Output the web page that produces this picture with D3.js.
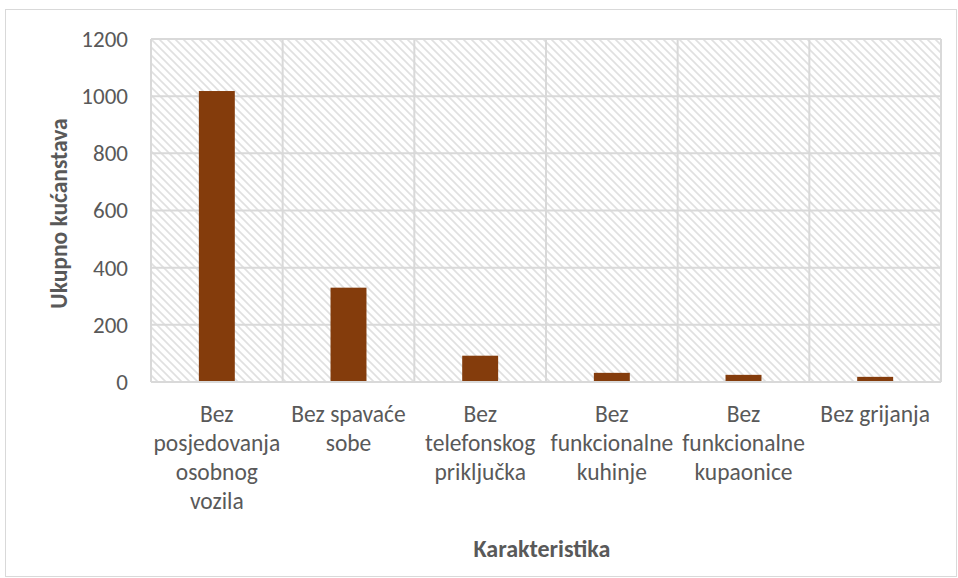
<!DOCTYPE html>
<html>
<head>
<meta charset="utf-8">
<script src="https://cdn.jsdelivr.net/npm/d3@7"></script>
<style>
  html, body { margin: 0; padding: 0; background: #fff; }
  svg { display: block; }
  text { font-family: Carlito, Calibri, Lato, "Liberation Sans", sans-serif; fill: #595959; }
</style>
</head>
<body>
<svg id="chart" width="958" height="578"></svg>
<script>
const categories = [
  "Bez posjedovanja osobnog vozila",
  "Bez spavaće sobe",
  "Bez telefonskog priključka",
  "Bez funkcionalne kuhinje",
  "Bez funkcionalne kupaonice",
  "Bez grijanja"
];
const categoryLines = [
  ["Bez", "posjedovanja", "osobnog", "vozila"],
  ["Bez spavaće", "sobe"],
  ["Bez", "telefonskog", "priključka"],
  ["Bez", "funkcionalne", "kuhinje"],
  ["Bez", "funkcionalne", "kupaonice"],
  ["Bez grijanja"]
];
const values = [1018, 330, 92, 32, 25, 18];
const yTicks = [0, 200, 400, 600, 800, 1000, 1200];
const yTitle = "Ukupno kućanstava";
const xTitle = "Karakteristika";

const FONT = "Carlito, Calibri, Lato, 'Liberation Sans', sans-serif";
const svg = d3.select("#chart");
const W = 958, H = 578;
const m = { left: 151, right: 17, top: 39, bottom: 196 };
const pw = W - m.left - m.right, ph = H - m.top - m.bottom;

// outer border
svg.append("rect").attr("x", 5.5).attr("y", 9.5).attr("width", W - 7).attr("height", H - 11)
  .attr("fill", "#fff").attr("stroke", "#d9d9d9").attr("stroke-width", 1);

// hatch pattern
const defs = svg.append("defs");
const pat = defs.append("pattern").attr("id", "hatch").attr("patternUnits", "userSpaceOnUse")
  .attr("width", 8).attr("height", 8);
pat.append("rect").attr("width", 8).attr("height", 8).attr("fill", "#fff");
pat.append("path").attr("d", "M-2,-2 L10,10 M-2,6 L2,10 M6,-2 L10,2")
  .attr("stroke", "#e0e0e0").attr("stroke-width", 1.6);

const x = d3.scaleBand().domain(categories).range([0, pw]).paddingInner(0).paddingOuter(0);
const y = d3.scaleLinear().domain([0, 1200]).range([ph, 0]);

const g = svg.append("g").attr("transform", `translate(${m.left},${m.top})`);

g.append("rect").attr("width", pw).attr("height", ph).attr("fill", "url(#hatch)");

// horizontal gridlines
g.append("g").selectAll("line").data(yTicks).join("line")
  .attr("x1", 0).attr("x2", pw)
  .attr("y1", d => y(d)).attr("y2", d => y(d))
  .attr("stroke", "#d9d9d9").attr("stroke-width", 2);

// vertical gridlines at category boundaries
const bounds = categories.map(c => x(c)).concat([pw]);
g.append("g").selectAll("line").data(bounds).join("line")
  .attr("x1", d => d).attr("x2", d => d)
  .attr("y1", 0).attr("y2", ph)
  .attr("stroke", "#d9d9d9").attr("stroke-width", 2);

// bars
const bw = x.bandwidth() * 0.273;
g.append("g").selectAll("rect").data(values).join("rect")
  .attr("x", (d, i) => x(categories[i]) + x.bandwidth() / 2 - bw / 2)
  .attr("y", d => y(d))
  .attr("width", bw)
  .attr("height", d => ph - y(d))
  .attr("fill", "#843C0C");

// y axis
const yAxis = d3.axisLeft(y).tickValues(yTicks).tickSize(0).tickPadding(23).tickFormat(d3.format("d"));
const ya = g.append("g").call(yAxis);
ya.select(".domain").remove();
ya.attr("font-size", null).attr("font-family", null);
ya.selectAll("text").style("font-size", "23px").attr("fill", "#595959")
  .style("font-family", FONT);

// x axis baseline
g.append("line").attr("x1", 0).attr("x2", pw).attr("y1", ph).attr("y2", ph)
  .attr("stroke", "#d9d9d9").attr("stroke-width", 2);

// x axis labels
const xl = g.append("g").selectAll("text").data(categories).join("text")
  .attr("text-anchor", "middle")
  .attr("transform", d => `translate(${x(d) + x.bandwidth() / 2},${ph + 40})`)
  .style("font-size", "23.5px");
xl.each(function(d, i) {
  const t = d3.select(this);
  categoryLines[i].forEach((ln, k) => {
    t.append("tspan").attr("x", 0).attr("y", k * 29).text(ln);
  });
});

// axis titles
svg.append("text").attr("transform", `translate(67,${m.top + ph / 2 + 3}) rotate(-90)`)
  .attr("text-anchor", "middle").style("font-size", "23.5px").style("font-weight", "bold")
  .text(yTitle);
svg.append("text").attr("x", m.left + pw / 2 - 4).attr("y", 557)
  .attr("text-anchor", "middle").style("font-size", "24px").style("font-weight", "bold")
  .text(xTitle);
</script>
</body>
</html>
